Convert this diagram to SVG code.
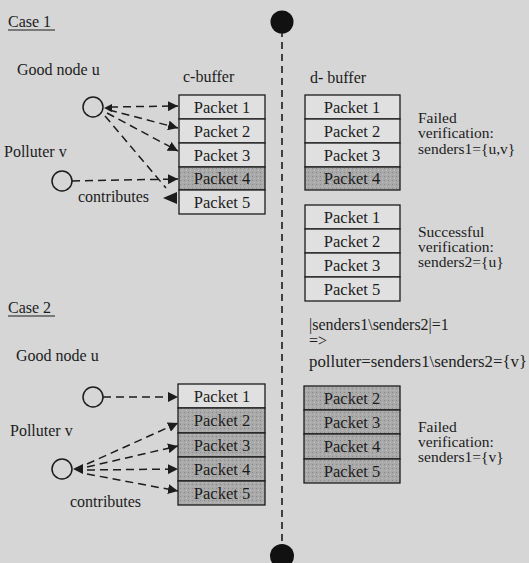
<svg xmlns="http://www.w3.org/2000/svg" width="529" height="563" viewBox="0 0 529 563">
  <style>
    text { font-family: "Liberation Serif", "Times New Roman", serif; font-size: 16px; fill: #1c1c1c; }
    .note { font-size: 15.5px; }
    .cell { fill: #e0e0e0; stroke: #1c1c1c; stroke-width: 1.3; }
    .bad { fill: url(#stipple); stroke: #1c1c1c; stroke-width: 1.3; }
    .lbl { text-anchor: middle; font-size: 16.5px; }
    .node { fill: none; stroke: #1c1c1c; stroke-width: 1.5; }
    .flow { fill: none; stroke: #1c1c1c; stroke-width: 1.5; stroke-dasharray: 8 5; }
    .head { fill: #1c1c1c; }
    .under { stroke: #1c1c1c; stroke-width: 1; }
  </style>
  <defs>
    <marker id="arr" viewBox="0 0 10 10" refX="10" refY="5" markerWidth="10" markerHeight="10" markerUnits="userSpaceOnUse" orient="auto">
      <path d="M0,0 L10,5 L0,10 z" class="head"/>
    </marker>
    <pattern id="stipple" width="4" height="4" patternUnits="userSpaceOnUse">
      <rect width="4" height="4" fill="#a9a9a9"/>
      <rect x="0" y="0" width="1" height="1" fill="#8a8a8a"/>
      <rect x="2" y="2" width="1" height="1" fill="#c0c0c0"/>
    </pattern>
  </defs>

  <rect width="529" height="563" fill="#d6d6d6"/>

  <!-- divider between buffers -->
  <g id="divider">
    <line x1="282" y1="30" x2="282" y2="548" stroke="#1c1c1c" stroke-width="1.6" stroke-dasharray="7 5"/>
    <circle cx="282" cy="22" r="11.5" fill="#111"/>
    <circle cx="282" cy="556" r="12" fill="#111"/>
  </g>

  <!-- ===== Case 1 ===== -->
  <g id="case1-title">
    <text x="8" y="27">Case 1</text>
    <line x1="8" y1="30" x2="55" y2="30" class="under"/>
  </g>

  <g id="case1-u">
    <text x="17" y="75">Good node u</text>
    <circle cx="93" cy="107" r="10" class="node"/>
  </g>
  <g id="case1-v">
    <text x="4" y="157">Polluter v</text>
    <circle cx="62" cy="181" r="10" class="node"/>
    <text x="78" y="202">contributes</text>
  </g>

  <g id="case1-cbuffer">
    <text x="183" y="82">c-buffer</text>
    <rect x="179" y="95" width="86" height="24" class="cell"/>
    <rect x="179" y="119" width="86" height="24" class="cell"/>
    <rect x="179" y="143" width="86" height="24" class="cell"/>
    <rect x="179" y="167" width="86" height="23" class="bad"/>
    <rect x="179" y="190" width="86" height="24" class="cell"/>
    <text x="222" y="113" class="lbl">Packet 1</text>
    <text x="222" y="137" class="lbl">Packet 2</text>
    <text x="222" y="161" class="lbl">Packet 3</text>
    <text x="222" y="184" class="lbl">Packet 4</text>
    <text x="222" y="208" class="lbl">Packet 5</text>
  </g>

  <g id="case1-dbuffer-fail">
    <text x="310" y="83">d- buffer</text>
    <rect x="305" y="95" width="95" height="24" class="cell"/>
    <rect x="305" y="119" width="95" height="24" class="cell"/>
    <rect x="305" y="143" width="95" height="24" class="cell"/>
    <rect x="305" y="167" width="95" height="23" class="bad"/>
    <text x="352" y="113" class="lbl">Packet 1</text>
    <text x="352" y="137" class="lbl">Packet 2</text>
    <text x="352" y="161" class="lbl">Packet 3</text>
    <text x="352" y="184" class="lbl">Packet 4</text>
    <text x="418" y="123" class="note">Failed</text>
    <text x="418" y="138" class="note">verification:</text>
    <text x="418" y="154" class="note">senders1={u,v}</text>
  </g>

  <g id="case1-dbuffer-ok">
    <rect x="305" y="205" width="95" height="24" class="cell"/>
    <rect x="305" y="229" width="95" height="24" class="cell"/>
    <rect x="305" y="253" width="95" height="24" class="cell"/>
    <rect x="305" y="277" width="95" height="24" class="cell"/>
    <text x="352" y="223" class="lbl">Packet 1</text>
    <text x="352" y="247" class="lbl">Packet 2</text>
    <text x="352" y="271" class="lbl">Packet 3</text>
    <text x="352" y="295" class="lbl">Packet 5</text>
    <text x="418" y="237" class="note">Successful</text>
    <text x="418" y="252" class="note">verification:</text>
    <text x="418" y="267" class="note">senders2={u}</text>
  </g>

  <!-- ===== Case 2 ===== -->
  <g id="case2-title">
    <text x="8" y="313">Case 2</text>
    <line x1="8" y1="316" x2="55" y2="316" class="under"/>
  </g>

  <g id="case2-u">
    <text x="16" y="361">Good node u</text>
    <circle cx="93" cy="397" r="10" class="node"/>
  </g>
  <g id="case2-v">
    <text x="10" y="436">Polluter v</text>
    <circle cx="62" cy="469" r="10" class="node"/>
    <text x="70" y="507">contributes</text>
  </g>

  <g id="case2-cbuffer">
    <rect x="178" y="384" width="87" height="24" class="cell"/>
    <rect x="178" y="408" width="87" height="25" class="bad"/>
    <rect x="178" y="433" width="87" height="24" class="bad"/>
    <rect x="178" y="457" width="87" height="24" class="bad"/>
    <rect x="178" y="481" width="87" height="24" class="bad"/>
    <text x="222" y="402" class="lbl">Packet 1</text>
    <text x="222" y="426" class="lbl">Packet 2</text>
    <text x="222" y="451" class="lbl">Packet 3</text>
    <text x="222" y="475" class="lbl">Packet 4</text>
    <text x="222" y="499" class="lbl">Packet 5</text>
  </g>

  <g id="case2-result">
    <text x="309" y="330">|senders1\senders2|=1</text>
    <text x="309" y="346" font-size="11">=&gt;</text>
    <text x="309" y="367" textLength="218" lengthAdjust="spacingAndGlyphs">polluter=senders1\senders2={v}</text>
  </g>

  <g id="case2-dbuffer">
    <rect x="304" y="386" width="96" height="24" class="bad"/>
    <rect x="304" y="410" width="96" height="24" class="bad"/>
    <rect x="304" y="434" width="96" height="25" class="bad"/>
    <rect x="304" y="459" width="96" height="24" class="bad"/>
    <text x="352" y="404" class="lbl">Packet 2</text>
    <text x="352" y="428" class="lbl">Packet 3</text>
    <text x="352" y="452" class="lbl">Packet 4</text>
    <text x="352" y="477" class="lbl">Packet 5</text>
    <text x="418" y="432" class="note">Failed</text>
    <text x="418" y="447" class="note">verification:</text>
    <text x="418" y="462" class="note">senders1={v}</text>
  </g>

  <!-- contribution links -->
  <g id="connectors">
    <!-- case 1, good node u -->
    <path d="M104,108 L112,104 L112,112 z" class="head"/>
    <line x1="110" y1="107" x2="178" y2="106" class="flow" marker-end="url(#arr)"/>
    <line x1="109" y1="110" x2="178" y2="128" class="flow" marker-end="url(#arr)"/>
    <line x1="107" y1="113" x2="178" y2="151" class="flow" marker-end="url(#arr)"/>
    <line x1="105" y1="116" x2="166" y2="188" class="flow"/>
    <path d="M163,198 L177,192 L177,204 z" class="head"/>
    <!-- case 1, polluter v -->
    <line x1="72" y1="181" x2="178" y2="179" class="flow" marker-end="url(#arr)"/>

    <!-- case 2, good node u -->
    <line x1="103" y1="397" x2="178" y2="397" class="flow" marker-end="url(#arr)"/>
    <!-- case 2, polluter v -->
    <path d="M73,469 L83,464 L83,474 z" class="head"/>
    <line x1="87" y1="464" x2="178" y2="423" class="flow" marker-end="url(#arr)"/>
    <line x1="87" y1="467" x2="178" y2="446" class="flow" marker-end="url(#arr)"/>
    <line x1="87" y1="470" x2="178" y2="469" class="flow" marker-end="url(#arr)"/>
    <line x1="87" y1="474" x2="178" y2="491" class="flow" marker-end="url(#arr)"/>
  </g>
</svg>
